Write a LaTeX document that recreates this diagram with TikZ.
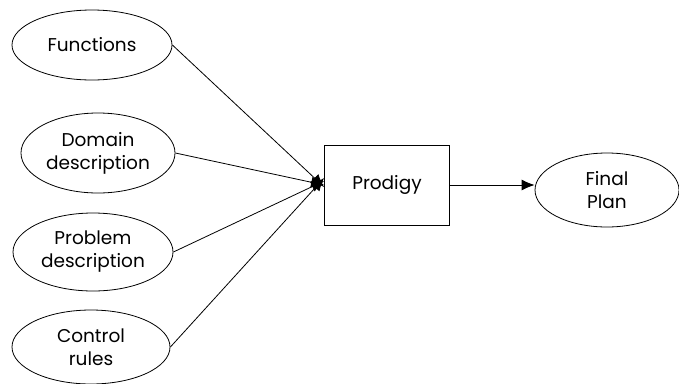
\documentclass[tikz,border=0pt]{standalone}
\usepackage{fontspec}
\setmainfont{Poppins}
\usetikzlibrary{shapes,arrows,arrows.meta}
\tikzstyle{source} = [ellipse, draw, line width=0.8pt, align=center, inner sep=0pt, font=\fontsize{18.5}{23}\selectfont]
\tikzstyle{block} = [rectangle, draw, line width=0.8pt, minimum width=125pt, minimum height=80pt, font=\fontsize{18.5}{23}\selectfont]
\tikzstyle{line} = [draw, line width=0.8pt, -{Latex[length=13pt, width=11pt]}]

\begin{document}
\begin{tikzpicture}[x=1pt, y=-1pt]
	\useasboundingbox (0,0) rectangle (679,383);
	% Place nodes
	\node [source, minimum width=160pt, minimum height=70pt] (functions) at (92,45) {Functions};
	\node [source, minimum width=154pt, minimum height=80pt] (domain) at (98,153) {Domain\\description};
	\node [source, minimum width=160pt, minimum height=78pt] (problem) at (93,252) {Problem\\description};
	\node [source, minimum width=158pt, minimum height=74pt] (control) at (91,347) {Control\\rules};
	\node [block] (prodigy) at (387,185) {Prodigy};
	\node [source, minimum width=144pt, minimum height=74pt] (plan) at (607,190) {Final\\Plan};
	% Draw edges
	\path [line] (functions.east) -- ([yshift=-2pt]prodigy.west);
	\path [line] (domain.east) -- (prodigy.west);
	\path [line] (problem.east) -- ([yshift=4pt]prodigy.west);
	\path [line] (control.east) -- ([yshift=7pt]prodigy.west);
	\path [line] (prodigy.east) -- (plan.west |- prodigy.east);
\end{tikzpicture}
\end{document}
